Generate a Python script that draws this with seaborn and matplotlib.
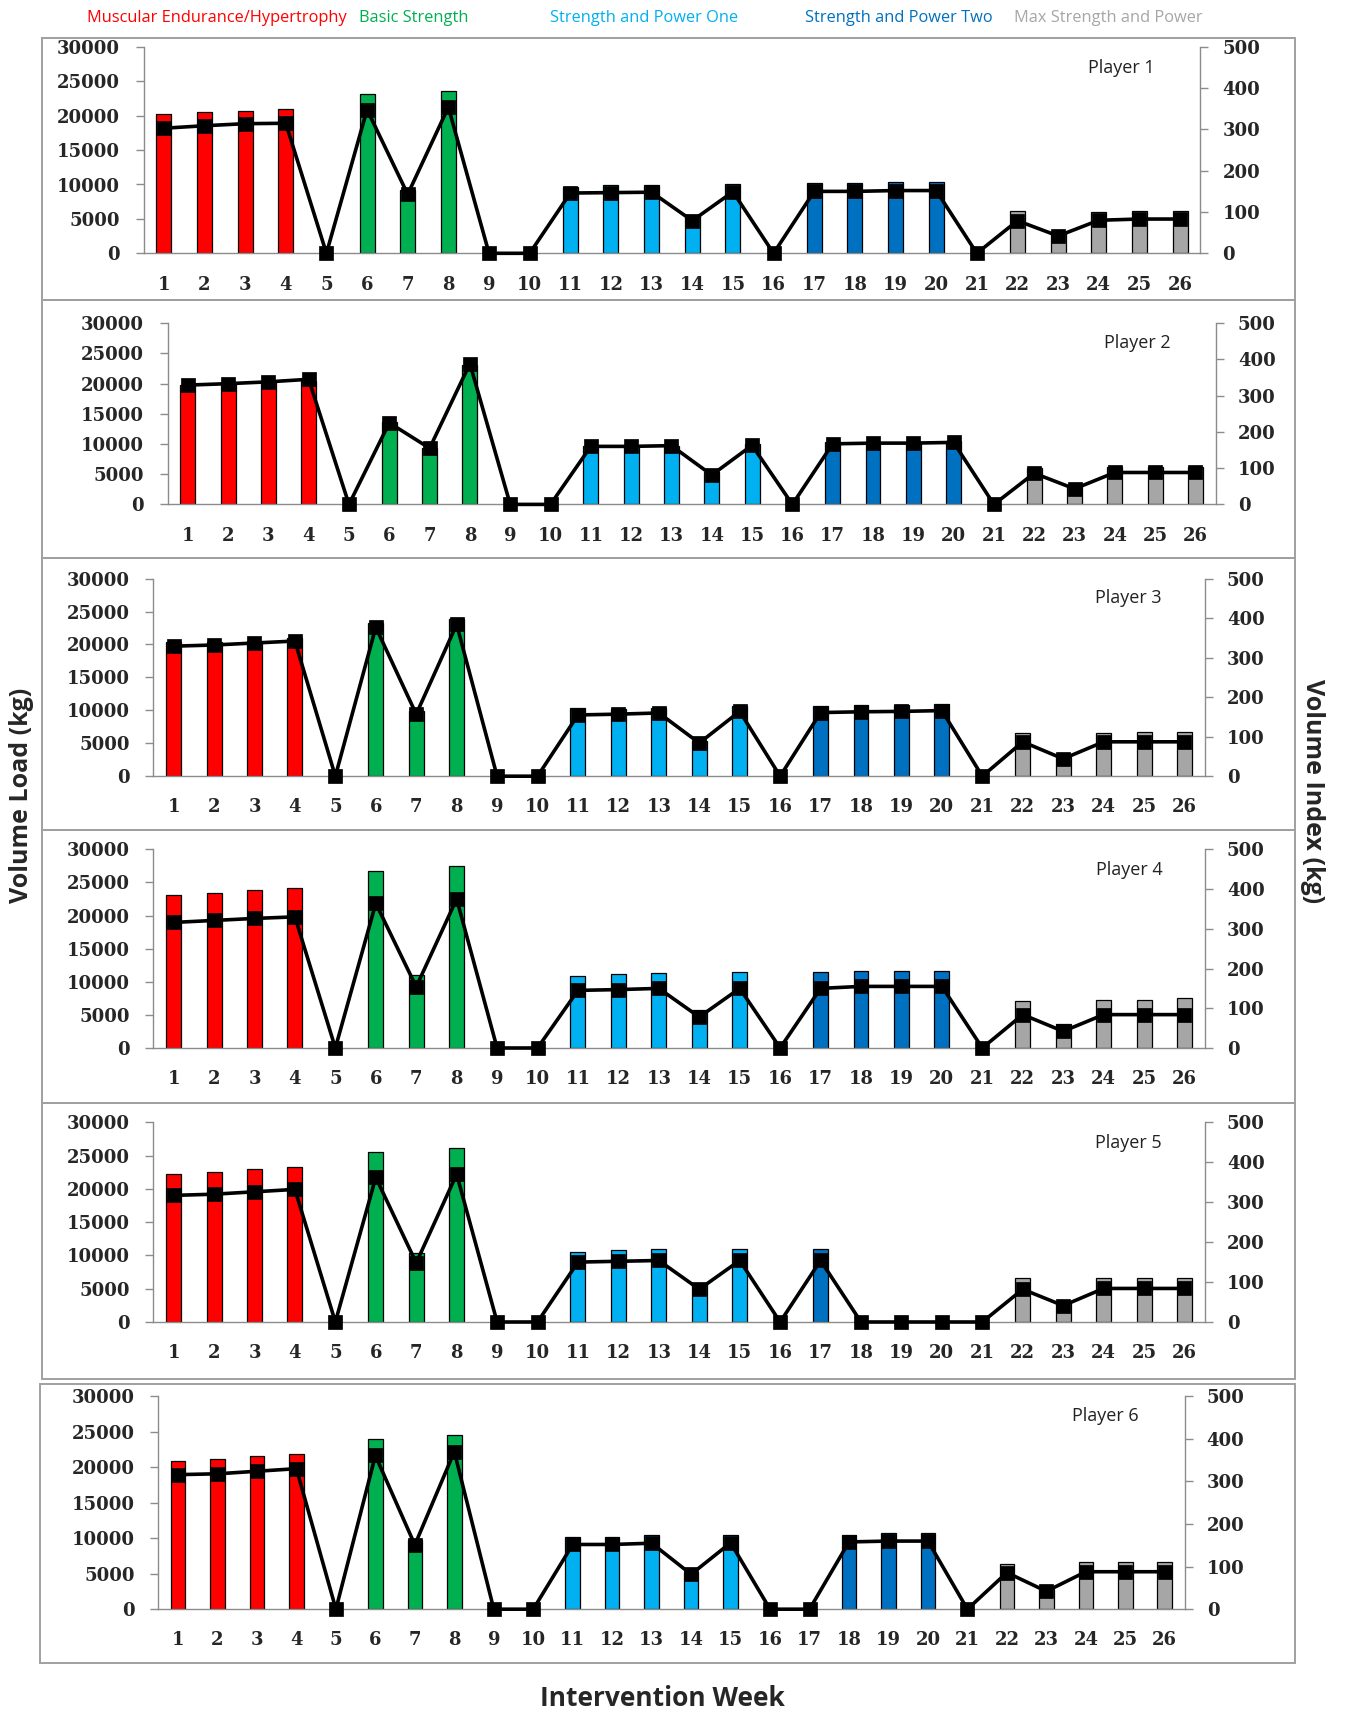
import numpy as np
import pandas as pd
import matplotlib
matplotlib.use('Agg')
import matplotlib.pyplot as plt
import seaborn as sns
from matplotlib.patches import Rectangle

# ---------------- data ----------------
weeks = [str(i) for i in range(1, 27)]

phase_names = ['Muscular Endurance/Hypertrophy', 'Basic Strength',
               'Strength and Power One', 'Strength and Power Two',
               'Max Strength and Power']
phase_colors = ['#FF0000', '#00B050', '#00B0F0', '#0070C0', '#A6A6A6']
legend_colors = ['#FF0000', '#00B050', '#00B0F0', '#0070C0', '#A6A6A6']

phase = ['ME', 'ME', 'ME', 'ME', 'R', 'BS', 'BS', 'BS', 'R', 'R',
         'SP1', 'SP1', 'SP1', 'SP1', 'SP1', 'R', 'SP2', 'SP2', 'SP2', 'SP2',
         'R', 'MSP', 'MSP', 'MSP', 'MSP', 'MSP']
phase_code = {'ME': phase_names[0], 'BS': phase_names[1], 'SP1': phase_names[2],
              'SP2': phase_names[3], 'MSP': phase_names[4], 'R': 'Rest'}

players = ['Player 1', 'Player 2', 'Player 3', 'Player 4', 'Player 5', 'Player 6']

load_p1 = [20200, 20600, 20700, 21000, 0, 23100, 9200, 23600, 0, 0,
           9700, 9900, 9900, 5500, 10100, 0, 10200, 10200, 10300, 10300,
           0, 6100, 2900, 6000, 6200, 6200]
load_p2 = [19700, 19900, 20200, 20500, 0, 13700, 9300, 23100, 0, 0,
           9600, 9700, 9700, 5300, 10000, 0, 10300, 10400, 10400, 10500,
           0, 6000, 2900, 6200, 6200, 6200]
load_p3 = [20300, 20400, 20600, 21000, 0, 23200, 9900, 23800, 0, 0,
           10300, 10200, 10300, 5300, 10600, 0, 10600, 10800, 10800, 10900,
           0, 6600, 2900, 6600, 6700, 6700]
load_p4 = [23100, 23400, 23900, 24200, 0, 26700, 11000, 27500, 0, 0,
           10900, 11100, 11300, 5700, 11400, 0, 11400, 11600, 11600, 11700,
           0, 7100, 3600, 7300, 7300, 7500]
load_p5 = [22300, 22500, 23000, 23300, 0, 25600, 10400, 26200, 0, 0,
           10550, 10750, 10900, 5700, 11000, 0, 11000, 0, 0, 0,
           0, 6600, 2800, 6600, 6600, 6600]
load_p6 = [20950, 21100, 21600, 21900, 0, 24000, 9800, 24600, 0, 0,
           10200, 10200, 10400, 5300, 10500, 0, 0, 10500, 10800, 10800,
           0, 6400, 2800, 6600, 6600, 6600]

index_p1 = [303, 309, 314, 315, 0, 348, 143, 354, 0, 0,
            146, 147, 148, 79, 149, 0, 150, 150, 152, 152,
            0, 79, 42, 80, 83, 83]
index_p2 = [329, 333, 338, 345, 0, 225, 155, 388, 0, 0,
            160, 160, 162, 81, 163, 0, 167, 169, 169, 171,
            0, 86, 43, 88, 88, 88]
index_p3 = [329, 332, 337, 342, 0, 377, 157, 384, 0, 0,
            155, 157, 160, 84, 164, 0, 161, 163, 164, 166,
            0, 87, 44, 87, 87, 87]
index_p4 = [316, 321, 326, 330, 0, 364, 154, 375, 0, 0,
            145, 147, 150, 78, 150, 0, 150, 155, 155, 155,
            0, 84, 42, 84, 84, 84]
index_p5 = [317, 320, 326, 332, 0, 362, 148, 370, 0, 0,
            150, 152, 154, 82, 154, 0, 154, 0, 0, 0,
            0, 82, 41, 84, 84, 84]
index_p6 = [316, 318, 324, 330, 0, 361, 151, 370, 0, 0,
            152, 152, 155, 82, 156, 0, 0, 158, 160, 160,
            0, 86, 42, 88, 88, 88]

loads = [load_p1, load_p2, load_p3, load_p4, load_p5, load_p6]
indices = [index_p1, index_p2, index_p3, index_p4, index_p5, index_p6]

left_ticks = [0, 5000, 10000, 15000, 20000, 25000, 30000]
right_ticks = [0, 100, 200, 300, 400, 500]

# ---------------- layout (pixels) ----------------
W, H = 1346, 1712
layout = [
    dict(box=(41.5, 38.2, 1294.8, 300.2), ax=(143.5, 1200.4, 46.9, 253.3), txt=(1121, 68)),
    dict(box=(41.5, 300.2, 1294.8, 557.9), ax=(167.6, 1215.6, 323.1, 504.4), txt=(1137, 343)),
    dict(box=(41.5, 557.9, 1294.8, 829.7), ax=(153.4, 1204.7, 578.6, 776.2), txt=(1128, 598)),
    dict(box=(41.5, 829.7, 1294.8, 1102.6), ax=(153.4, 1204.7, 849.3, 1048.0), txt=(1129, 870)),
    dict(box=(41.5, 1102.6, 1294.8, 1378.8), ax=(153.4, 1204.7, 1122.3, 1322.0), txt=(1128, 1143)),
    dict(box=(40.4, 1384.3, 1294.8, 1662.7), ax=(158.3, 1184.5, 1396.3, 1609.2), txt=(1105, 1416)),
]

sns.set_style('white')
plt.rcParams['font.family'] = ['DejaVu Serif']
plt.rcParams['font.weight'] = 'bold'

GREY = '#8C8C8C'
palette = dict(zip(phase_names, phase_colors))

fig = plt.figure(figsize=(W / 100, H / 100), dpi=100)

def fx(x):
    return x / W

def fy(y):
    return 1 - y / H

for i, lay in enumerate(layout):
    bx0, by0, bx1, by1 = lay['box']
    fig.add_artist(Rectangle((fx(bx0), fy(by1)), (bx1 - bx0) / W, (by1 - by0) / H,
                             transform=fig.transFigure, fill=False,
                             edgecolor='#A0A0A0', lw=1.4))
    l, r, t, b = lay['ax']
    ax = fig.add_axes([fx(l), fy(b), (r - l) / W, (b - t) / H])

    df = pd.DataFrame({'week': weeks, 'load': loads[i], 'idx': indices[i],
                       'phase': [phase_code[p] for p in phase]})
    bars = df[df['load'] > 0]
    sns.barplot(data=bars, x='week', y='load', hue='phase', order=weeks,
                hue_order=phase_names, palette=palette, saturation=1, dodge=False,
                width=0.37, edgecolor='black', linewidth=0.9, errorbar=None,
                legend=False, ax=ax)

    ax2 = ax.twinx()
    sns.pointplot(data=df, x='week', y='idx', order=weeks, color='black',
                  markers='s', markersize=8, linewidth=2.6, errorbar=None,
                  ax=ax2)
    for ln in ax2.lines:
        ln.set_clip_on(False)
        ln.set_markeredgecolor('black')

    ax.set_xlim(-0.5, 25.5)
    ax.set_ylim(0, 30000)
    ax2.set_ylim(0, 500)
    ax.set_yticks(left_ticks)
    ax.set_yticklabels([str(v) for v in left_ticks])
    ax2.set_yticks(right_ticks)
    ax2.set_yticklabels([str(v) for v in right_ticks])
    ax.set_xticks(range(len(weeks)))
    ax.set_xticklabels(weeks)
    ax.set_xticks(np.arange(-0.5, len(weeks), 1.0), minor=True)

    ax.tick_params(axis='x', which='major', length=0, pad=16, labelsize=13)
    ax.tick_params(axis='x', which='minor', length=6, width=1, color=GREY, direction='out')
    ax.tick_params(axis='y', length=6, width=1, color=GREY, pad=11, labelsize=13,
                   direction='out', left=True)
    ax2.tick_params(axis='y', length=6, width=1, color=GREY, pad=10, labelsize=13,
                    direction='out', right=True)
    ax2.tick_params(axis='x', which='both', bottom=False, top=False,
                    labelbottom=False, labeltop=False)

    for sp in ['top', 'right']:
        ax.spines[sp].set_visible(False)
    for sp in ['top', 'left', 'bottom']:
        ax2.spines[sp].set_visible(False)
    for a, sps in ((ax, ['left', 'bottom']), (ax2, ['right'])):
        for sp in sps:
            a.spines[sp].set_color(GREY)
            a.spines[sp].set_linewidth(1.0)
    ax.set_xlabel('')
    ax.set_ylabel('')
    ax2.set_xlabel('')
    ax2.set_ylabel('')
    ax.patch.set_alpha(0)

    tx, ty = lay['txt']
    fig.text(fx(tx), fy(ty), players[i], ha='center', va='center',
             family=['Open Sans', 'DejaVu Sans'], weight='normal', fontsize=13,
             color='#222222')

# legend header
legend_x = [87, 359, 550, 805, 1014]
for name, col, x in zip(phase_names, legend_colors, legend_x):
    fig.text(fx(x), fy(18), name, ha='left', va='center', color=col,
             family=['Open Sans', 'DejaVu Sans'], weight='normal', fontsize=11.8)

fig.text(fx(22), fy(795), 'Volume Load (kg)', rotation=90, ha='center', va='center',
         family=['Open Sans', 'DejaVu Sans'], weight='bold', fontsize=18)
fig.text(fx(1313), fy(791), 'Volume Index (kg)', rotation=270, ha='center', va='center',
         family=['Open Sans', 'DejaVu Sans'], weight='bold', fontsize=18)
fig.text(fx(662), fy(1699), 'Intervention Week', ha='center', va='center',
         family=['Open Sans', 'DejaVu Sans'], weight='bold', fontsize=19)

fig.savefig('out.png', dpi=100)
